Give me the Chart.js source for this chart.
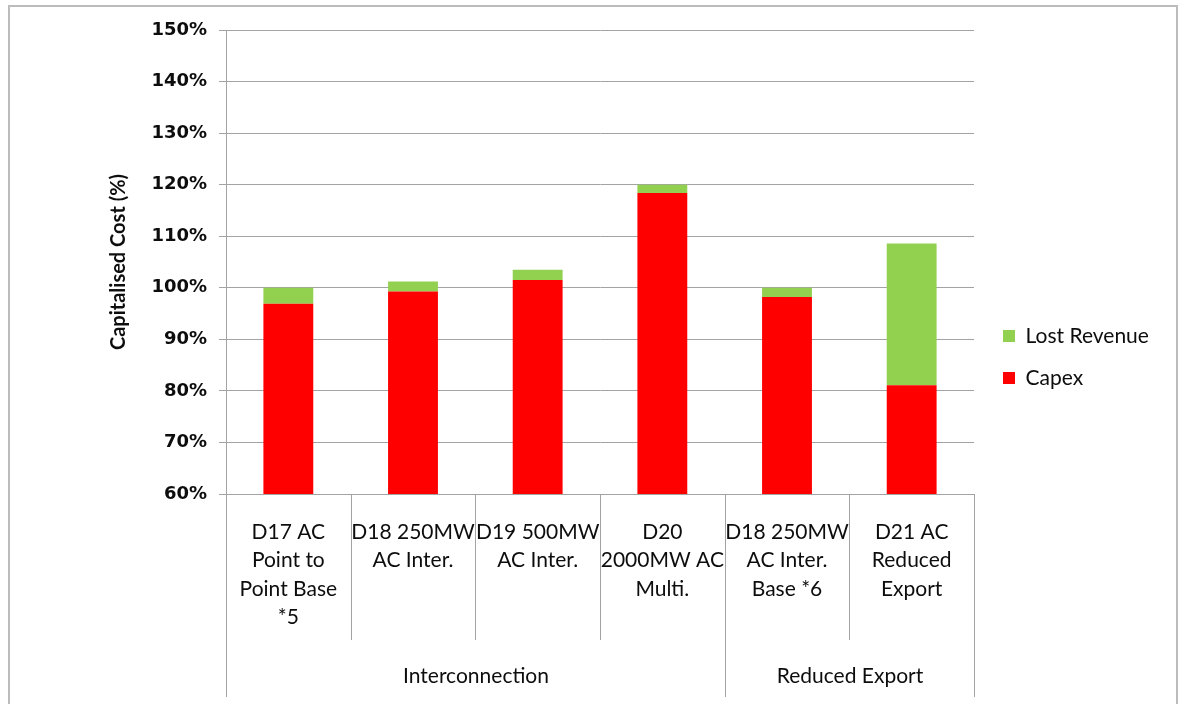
<!DOCTYPE html>
<html>
<head>
<meta charset="utf-8">
<title>Capitalised Cost</title>
<script src="https://cdn.jsdelivr.net/npm/chart.js@4.4.1/dist/chart.umd.min.js"></script>
<style>
  html, body { margin: 0; padding: 0; background: #ffffff; }
  #wrap { position: relative; width: 1184px; height: 704px; overflow: hidden; }
  #frame { position: absolute; left: 8px; top: 5px; width: 1170px; height: 720px;
           border: 2px solid #bcbcbc; box-sizing: border-box; pointer-events: none; }
  canvas { position: absolute; left: 0; top: 0; }
</style>
</head>
<body>
<div id="wrap">
  <div id="frame"></div>
  <canvas id="chart" width="1184" height="704"></canvas>
</div>
<script>
// Category labels (one entry per line of text)
const categoryLines = [
  ['D17 AC', 'Point to', 'Point Base', '*5'],
  ['D18 250MW', 'AC Inter.'],
  ['D19 500MW', 'AC Inter.'],
  ['D20', '2000MW AC', 'Multi.'],
  ['D18 250MW', 'AC Inter.', 'Base *6'],
  ['D21 AC', 'Reduced', 'Export']
];

// Outer category groups and how many categories each spans
const groupNames = ['Interconnection', 'Reduced Export'];
const groupSizes = [4, 2];

// Series values (% of base capitalised cost)
const capex = [96.9, 99.3, 101.5, 118.4, 98.2, 81.1];
const lostRevenue = [3.1, 1.9, 2.0, 1.6, 1.8, 27.5];

// Value axis range
const yMin = 60;
const yMax = 150;
const yStep = 10;

const gridGray = '#a3a3a3';
const textColor = '#0d0d0d';
const labelFont = { family: 'Lato, "Open Sans", sans-serif', size: 21, lineHeight: 1.35 };

// Draws the two-level category table below the plot and the group names
const categoryTable = {
  id: 'categoryTable',
  afterDraw(chart) {
    const { ctx, chartArea, scales: { x } } = chart;
    const half = (x.getPixelForValue(1) - x.getPixelForValue(0)) / 2;
    const edge = i => Math.round(x.getPixelForValue(i) - half) + 0.5;
    const top = chartArea.bottom;
    const innerBottom = top + 146;
    const outerBottom = top + 203;

    const groupEdges = [0];
    groupSizes.forEach(n => groupEdges.push(groupEdges[groupEdges.length - 1] + n));

    ctx.save();
    ctx.strokeStyle = gridGray;
    ctx.lineWidth = 1;
    for (let i = 0; i <= categoryLines.length; i++) {
      const bottom = groupEdges.includes(i) ? outerBottom : innerBottom;
      ctx.beginPath();
      ctx.moveTo(edge(i), top);
      ctx.lineTo(edge(i), bottom);
      ctx.stroke();
    }
    ctx.fillStyle = textColor;
    ctx.font = '21px Lato, "Open Sans", sans-serif';
    ctx.textAlign = 'center';
    ctx.textBaseline = 'middle';
    groupNames.forEach((name, g) => {
      const cx = (edge(groupEdges[g]) + edge(groupEdges[g + 1])) / 2;
      ctx.fillText(name, cx, top + 182);
    });
    ctx.restore();
  }
};

// Moves the legend a little further from the plot area
const legendOffset = {
  id: 'legendOffset',
  afterLayout(chart) {
    if (chart.legend) {
      chart.legend.left += 8;
      chart.legend.right += 8;
    }
  }
};

new Chart(document.getElementById('chart'), {
  type: 'bar',
  data: {
    labels: categoryLines,
    datasets: [
      { label: 'Capex', data: capex, backgroundColor: '#ff0000', borderWidth: 0 },
      { label: 'Lost Revenue', data: lostRevenue, backgroundColor: '#92d050', borderWidth: 0 }
    ]
  },
  options: {
    responsive: false,
    animation: false,
    devicePixelRatio: 1,
    layout: { padding: { left: 0, top: 30, right: 40, bottom: 20 } },
    datasets: { bar: { categoryPercentage: 1.0, barPercentage: 0.4 } },
    plugins: {
      tooltip: { enabled: false },
      legend: {
        position: 'right',
        reverse: true,
        maxWidth: 170,
        labels: {
          color: textColor,
          font: { family: 'Lato, "Open Sans", sans-serif', size: 21 },
          boxWidth: 12,
          boxHeight: 12,
          padding: 21
        }
      }
    },
    scales: {
      x: {
        stacked: true,
        offset: true,
        grid: { display: false, drawTicks: false },
        border: { display: true, color: gridGray, width: 1 },
        ticks: {
          color: textColor,
          font: labelFont,
          padding: 24,
          autoSkip: false,
          maxRotation: 0,
          minRotation: 0
        },
        afterFit(scale) { scale.height = 190; }
      },
      y: {
        stacked: true,
        min: yMin,
        max: yMax,
        grid: { color: gridGray, lineWidth: 1, drawTicks: true, tickLength: 7, tickColor: gridGray },
        border: { display: true, color: gridGray, width: 1 },
        ticks: {
          stepSize: yStep,
          color: textColor,
          padding: 12,
          font: { family: '"DejaVu Sans", sans-serif', size: 18, weight: 'bold' },
          callback: v => v + '%'
        },
        title: {
          display: true,
          text: 'Capitalised Cost (%)',
          color: textColor,
          font: { family: 'Lato, "Open Sans", sans-serif', size: 20, weight: 'bold' },
          padding: { top: 107, bottom: 0 }
        },
        afterFit(scale) { scale.width = 226; }
      }
    }
  },
  plugins: [categoryTable, legendOffset]
});
</script>
</body>
</html>
